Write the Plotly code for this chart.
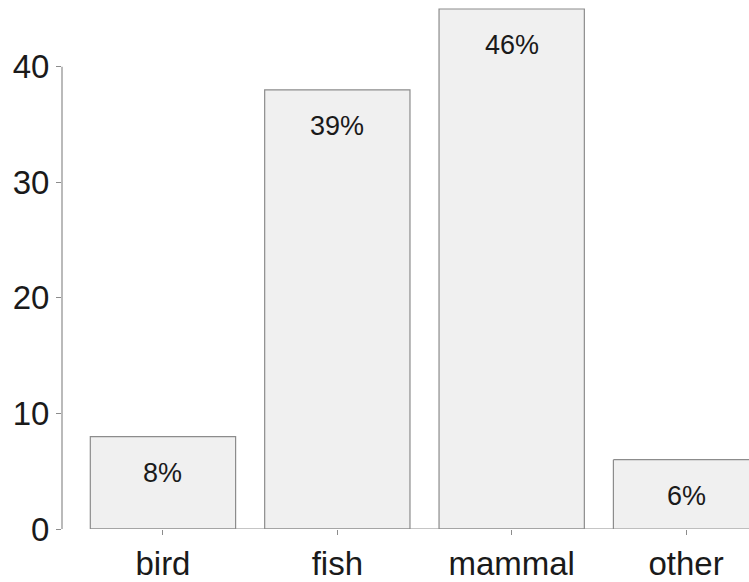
import plotly.graph_objects as go

# Counts per prey group
categories = ["bird", "fish", "mammal", "other"]
counts = [8, 38, 45, 6]
y_ticks = [0, 10, 20, 30, 40]

total = sum(counts)
pct_labels = [f"{round(100 * c / total)}%" for c in counts]

FONT = "Liberation Sans, Arial, sans-serif"
GREY = "#8c8c8c"
LW = 1.2
BAR_GAP = 1 / 6
half_w = (1 - BAR_GAP) / 2

# The last bar runs off the right edge, so its outline is drawn
# separately (left and top sides only)
line_widths = [LW] * (len(categories) - 1) + [0]

fig = go.Figure(
    go.Bar(
        x=categories,
        y=counts,
        marker=dict(color="#f0f0f0", line=dict(color=GREY, width=line_widths)),
        hoverinfo="skip",
    )
)

last = len(categories) - 1
fig.add_shape(type="line", xref="x", yref="y", x0=last - half_w, x1=last - half_w,
              y0=0, y1=counts[last], line=dict(color=GREY, width=LW))
fig.add_shape(type="line", xref="x", yref="y", x0=last - half_w, x1=last + half_w,
              y0=counts[last], y1=counts[last], line=dict(color=GREY, width=LW))

# Percentage labels inside the top of each bar
for cat, c, lab in zip(categories, counts, pct_labels):
    fig.add_annotation(
        x=cat, y=c, text=lab, showarrow=False, yshift=-36,
        yanchor="middle", font=dict(family=FONT, size=27, color="#1a1a1a"),
    )

# Baseline starting at the left edge of the first bar
fig.add_shape(type="line", xref="x", yref="y", x0=-half_w, x1=len(categories),
              y0=0, y1=0, line=dict(color=GREY, width=LW))
# Y axis line spanning the tick range only
fig.add_shape(type="line", xref="paper", yref="y", x0=0, x1=0,
              y0=y_ticks[0], y1=y_ticks[-1], line=dict(color=GREY, width=LW))

fig.update_layout(
    width=749, height=582,
    margin=dict(l=62, r=0, t=0, b=51),
    paper_bgcolor="white", plot_bgcolor="white",
    bargap=BAR_GAP, showlegend=False,
)
fig.update_xaxes(
    type="category", range=[-0.579, 3.361], showline=False, showgrid=False,
    zeroline=False, ticks="outside", ticklen=5, tickcolor=GREY, tickwidth=LW,
    tickfont=dict(family=FONT, size=33, color="#1a1a1a"),
)
fig.update_yaxes(
    range=[0, 45.78], tickvals=y_ticks, showline=False, showgrid=False,
    zeroline=False, ticks="outside", ticklen=5, tickcolor=GREY, tickwidth=LW,
    tickfont=dict(family=FONT, size=33, color="#1a1a1a"),
)

fig.write_html("out.html")
